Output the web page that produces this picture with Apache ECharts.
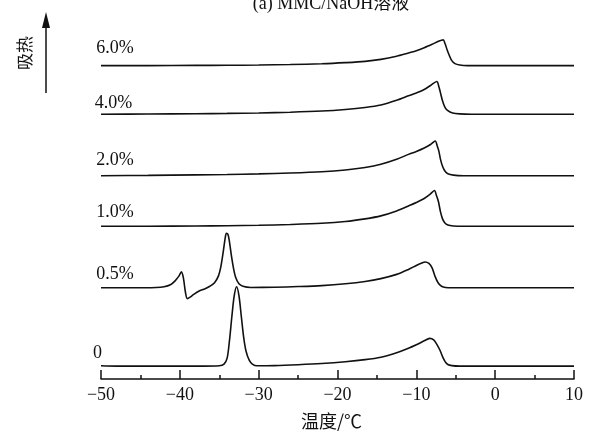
<!DOCTYPE html>
<html>
<head>
<meta charset="utf-8">
<script src="https://cdn.jsdelivr.net/npm/echarts@6/dist/echarts.min.js"></script>
<style>
html,body{margin:0;padding:0;background:#fff;}
#c{width:596px;height:435px;}
</style>
</head>
<body>
<div id="c"></div>
<script>
// ---- data (temperature °C, relative heat-flow above each baseline, arbitrary units) ----
const seriesNames = ['0', '0.5%', '1.0%', '2.0%', '4.0%', '6.0%'];
const baselineOffsets = [13, 92, 154, 205, 267, 316];

const curve0 = [
  [-50,0.4],[-48,0],[-44,0],[-40,0],[-37,0],[-35,0.4],[-34.4,2],[-34.0,8],[-33.7,26],[-33.4,50],
  [-33.1,71],[-32.8,80],[-32.5,71],[-32.2,50],[-31.9,29],[-31.6,15],[-31.2,6],[-30.8,2],[-30.2,0.3],
  [-28,0.5],[-25,1.4],[-22,2.6],[-19,4.4],[-16.5,6.5],[-14.5,9],[-12.5,13.5],[-11,18],[-10,21.5],
  [-9,25.5],[-8.3,28],[-7.8,26.5],[-7.4,22],[-7.0,16],[-6.7,10],[-6.35,4.5],[-6.0,1.6],[-5.5,0.5],
  [-4.5,0],[0,0],[5,0],[10,0]
];
const curve05 = [
  [-50,0],[-46,0],[-43,0.3],[-42,1],[-41.2,3],[-40.6,7],[-40.1,12],[-39.8,16],[-39.55,10],[-39.3,-4],
  [-39.05,-11],[-38.7,-9.5],[-38.2,-6.5],[-37.6,-3.5],[-36.8,-1],[-36.2,1.5],[-35.6,5],[-35.1,12],[-34.8,21],
  [-34.5,36],[-34.25,50],[-34.1,55],[-33.9,54],[-33.7,46],[-33.45,32],[-33.2,20],[-32.9,10],[-32.5,4],
  [-32.0,1.5],[-31.0,0.3],[-28,0.5],[-25,1.2],[-22,2.2],[-19,4],[-16.5,6.3],[-14.5,9.2],[-12.5,13.5],
  [-11,18.5],[-10,22.5],[-9.3,25],[-8.9,26],[-8.4,24.5],[-8.0,20],[-7.6,11],[-7.2,4.5],[-6.8,1.5],
  [-6.3,0.3],[-5.5,0],[0,0],[10,0]
];
const curve10 = [
  [-50,0],[-44,0],[-38,0.3],[-34,0.6],[-30,1],[-26,1.8],[-22,3],[-19,4.8],[-16.5,7.5],[-14.5,10.5],
  [-12.5,15.5],[-11,20.5],[-10,24],[-9,28],[-8.3,32],[-7.7,36],[-7.45,31],[-7.2,25],[-6.95,15],[-6.7,8],
  [-6.4,3.5],[-6.0,1.2],[-5.3,0.3],[-4,0],[0,0],[10,0]
];
const curve20 = [
  [-50,0],[-44,0.3],[-38,0.8],[-34,1.2],[-30,1.8],[-26,2.7],[-22,4],[-19,5.8],[-16.5,8.3],[-14.5,11.5],
  [-12.5,16.5],[-11,21.5],[-10,24.5],[-9,28],[-8.2,31.5],[-7.6,35],[-7.35,30],[-7.15,25],[-6.95,17],
  [-6.7,10],[-6.4,5],[-6.0,2],[-5.3,0.6],[-4,0],[0,0],[10,0]
];
const curve40 = [
  [-50,0],[-44,0.2],[-38,0.5],[-34,0.8],[-30,1.2],[-26,2],[-22,3.2],[-19,4.8],[-16.5,6.8],[-14.5,9.3],
  [-12.5,14],[-11,18.5],[-10,21.5],[-9,25],[-8.2,29],[-7.4,33],[-7.15,28],[-6.95,22],[-6.7,14],
  [-6.4,7.5],[-6.0,3.5],[-5.4,1.2],[-4.5,0.3],[-3,0],[0,0],[10,0]
];
const curve60 = [
  [-50,0],[-44,0],[-38,0.2],[-34,0.3],[-30,0.6],[-26,1.1],[-22,1.9],[-19,3],[-16.5,4.3],[-14.5,6.3],
  [-12.5,9.5],[-11,12.8],[-10,15],[-9,18],[-8,21.5],[-7.2,24.5],[-6.6,26],[-6.35,22],[-6.1,16],
  [-5.8,10],[-5.5,5],[-5.1,2],[-4.5,0.6],[-3.5,0],[0,0],[10,0]
];
const curves = [curve0, curve05, curve10, curve20, curve40, curve60];

const xTicks = [-50, -40, -30, -20, -10, 0, 10];
const titleText = '(a) MMC/NaOH溶液';
const xName = '温度/℃';
const yName = '吸热';

// ---- layout / style ----
const labelAnchor = [[-51.0, 13], [-50.6, 14], [-50.6, 14], [-50.6, 16], [-50.8, 11], [-50.6, 18]];
const serif = "'Liberation Serif','Times New Roman','Noto Sans CJK SC',serif";
const cjk = "'Noto Sans CJK SC','Liberation Serif',serif";

const chart = echarts.init(document.getElementById('c'), null, {renderer: 'canvas'});

const series = curves.map((c, i) => ({
  type: 'line',
  name: seriesNames[i],
  data: c.map(p => [p[0], p[1] + baselineOffsets[i]]),
  showSymbol: false,
  symbol: 'none',
  smooth: 0.3,
  lineStyle: {color: '#111', width: 1.6},
  silent: true,
  animation: false
}));

chart.setOption({
  animation: false,
  backgroundColor: '#fff',
  grid: {left: 101, right: 22, top: 20, bottom: 53, containLabel: false},
  xAxis: {
    type: 'value',
    min: xTicks[0],
    max: xTicks[xTicks.length - 1],
    interval: 10,
    name: xName,
    nameLocation: 'middle',
    nameGap: 33,
    nameTextStyle: {color: '#111', fontSize: 18, fontFamily: cjk, padding: [0, 12, 0, 0]},
    axisLine: {show: true, lineStyle: {color: '#111', width: 1.5}},
    axisTick: {show: true, inside: true, length: 9, lineStyle: {color: '#111', width: 1.5}},
    minorTick: {show: true, splitNumber: 2, length: 4, lineStyle: {color: '#111', width: 1.5}},
    axisLabel: {
      color: '#111', fontSize: 18, fontFamily: serif, margin: 7,
      formatter: v => (v < 0 ? '\u2212' + Math.abs(v) : String(v))
    },
    splitLine: {show: false}
  },
  yAxis: {
    type: 'value', min: 0, max: 362, show: false
  },
  series: series
});

// labels and decorations positioned through the chart's own scales
const graphics = [];
seriesNames.forEach((n, i) => {
  const p = chart.convertToPixel({gridIndex: 0}, [labelAnchor[i][0], baselineOffsets[i] + labelAnchor[i][1]]);
  graphics.push({
    type: 'text', x: p[0], y: p[1],
    style: {text: n, fill: '#111', font: '18px ' + serif, textAlign: 'left', textVerticalAlign: 'middle'}
  });
});
graphics.push({
  type: 'text', x: 331, y: 4,
  style: {text: titleText, fill: '#111', font: '18px ' + serif, textAlign: 'center', textVerticalAlign: 'middle'}
});
graphics.push({
  type: 'text', x: 25, y: 53, rotation: Math.PI / 2,
  style: {text: yName, fill: '#111', font: '17px ' + cjk, textAlign: 'center', textVerticalAlign: 'middle'}
});
graphics.push({
  type: 'line', shape: {x1: 46, y1: 93, x2: 46, y2: 24},
  style: {stroke: '#111', lineWidth: 1.5}
});
graphics.push({
  type: 'polygon', shape: {points: [[46, 12], [42, 28], [50, 28]]},
  style: {fill: '#111'}
});
chart.setOption({graphic: graphics});
</script>
</body>
</html>
